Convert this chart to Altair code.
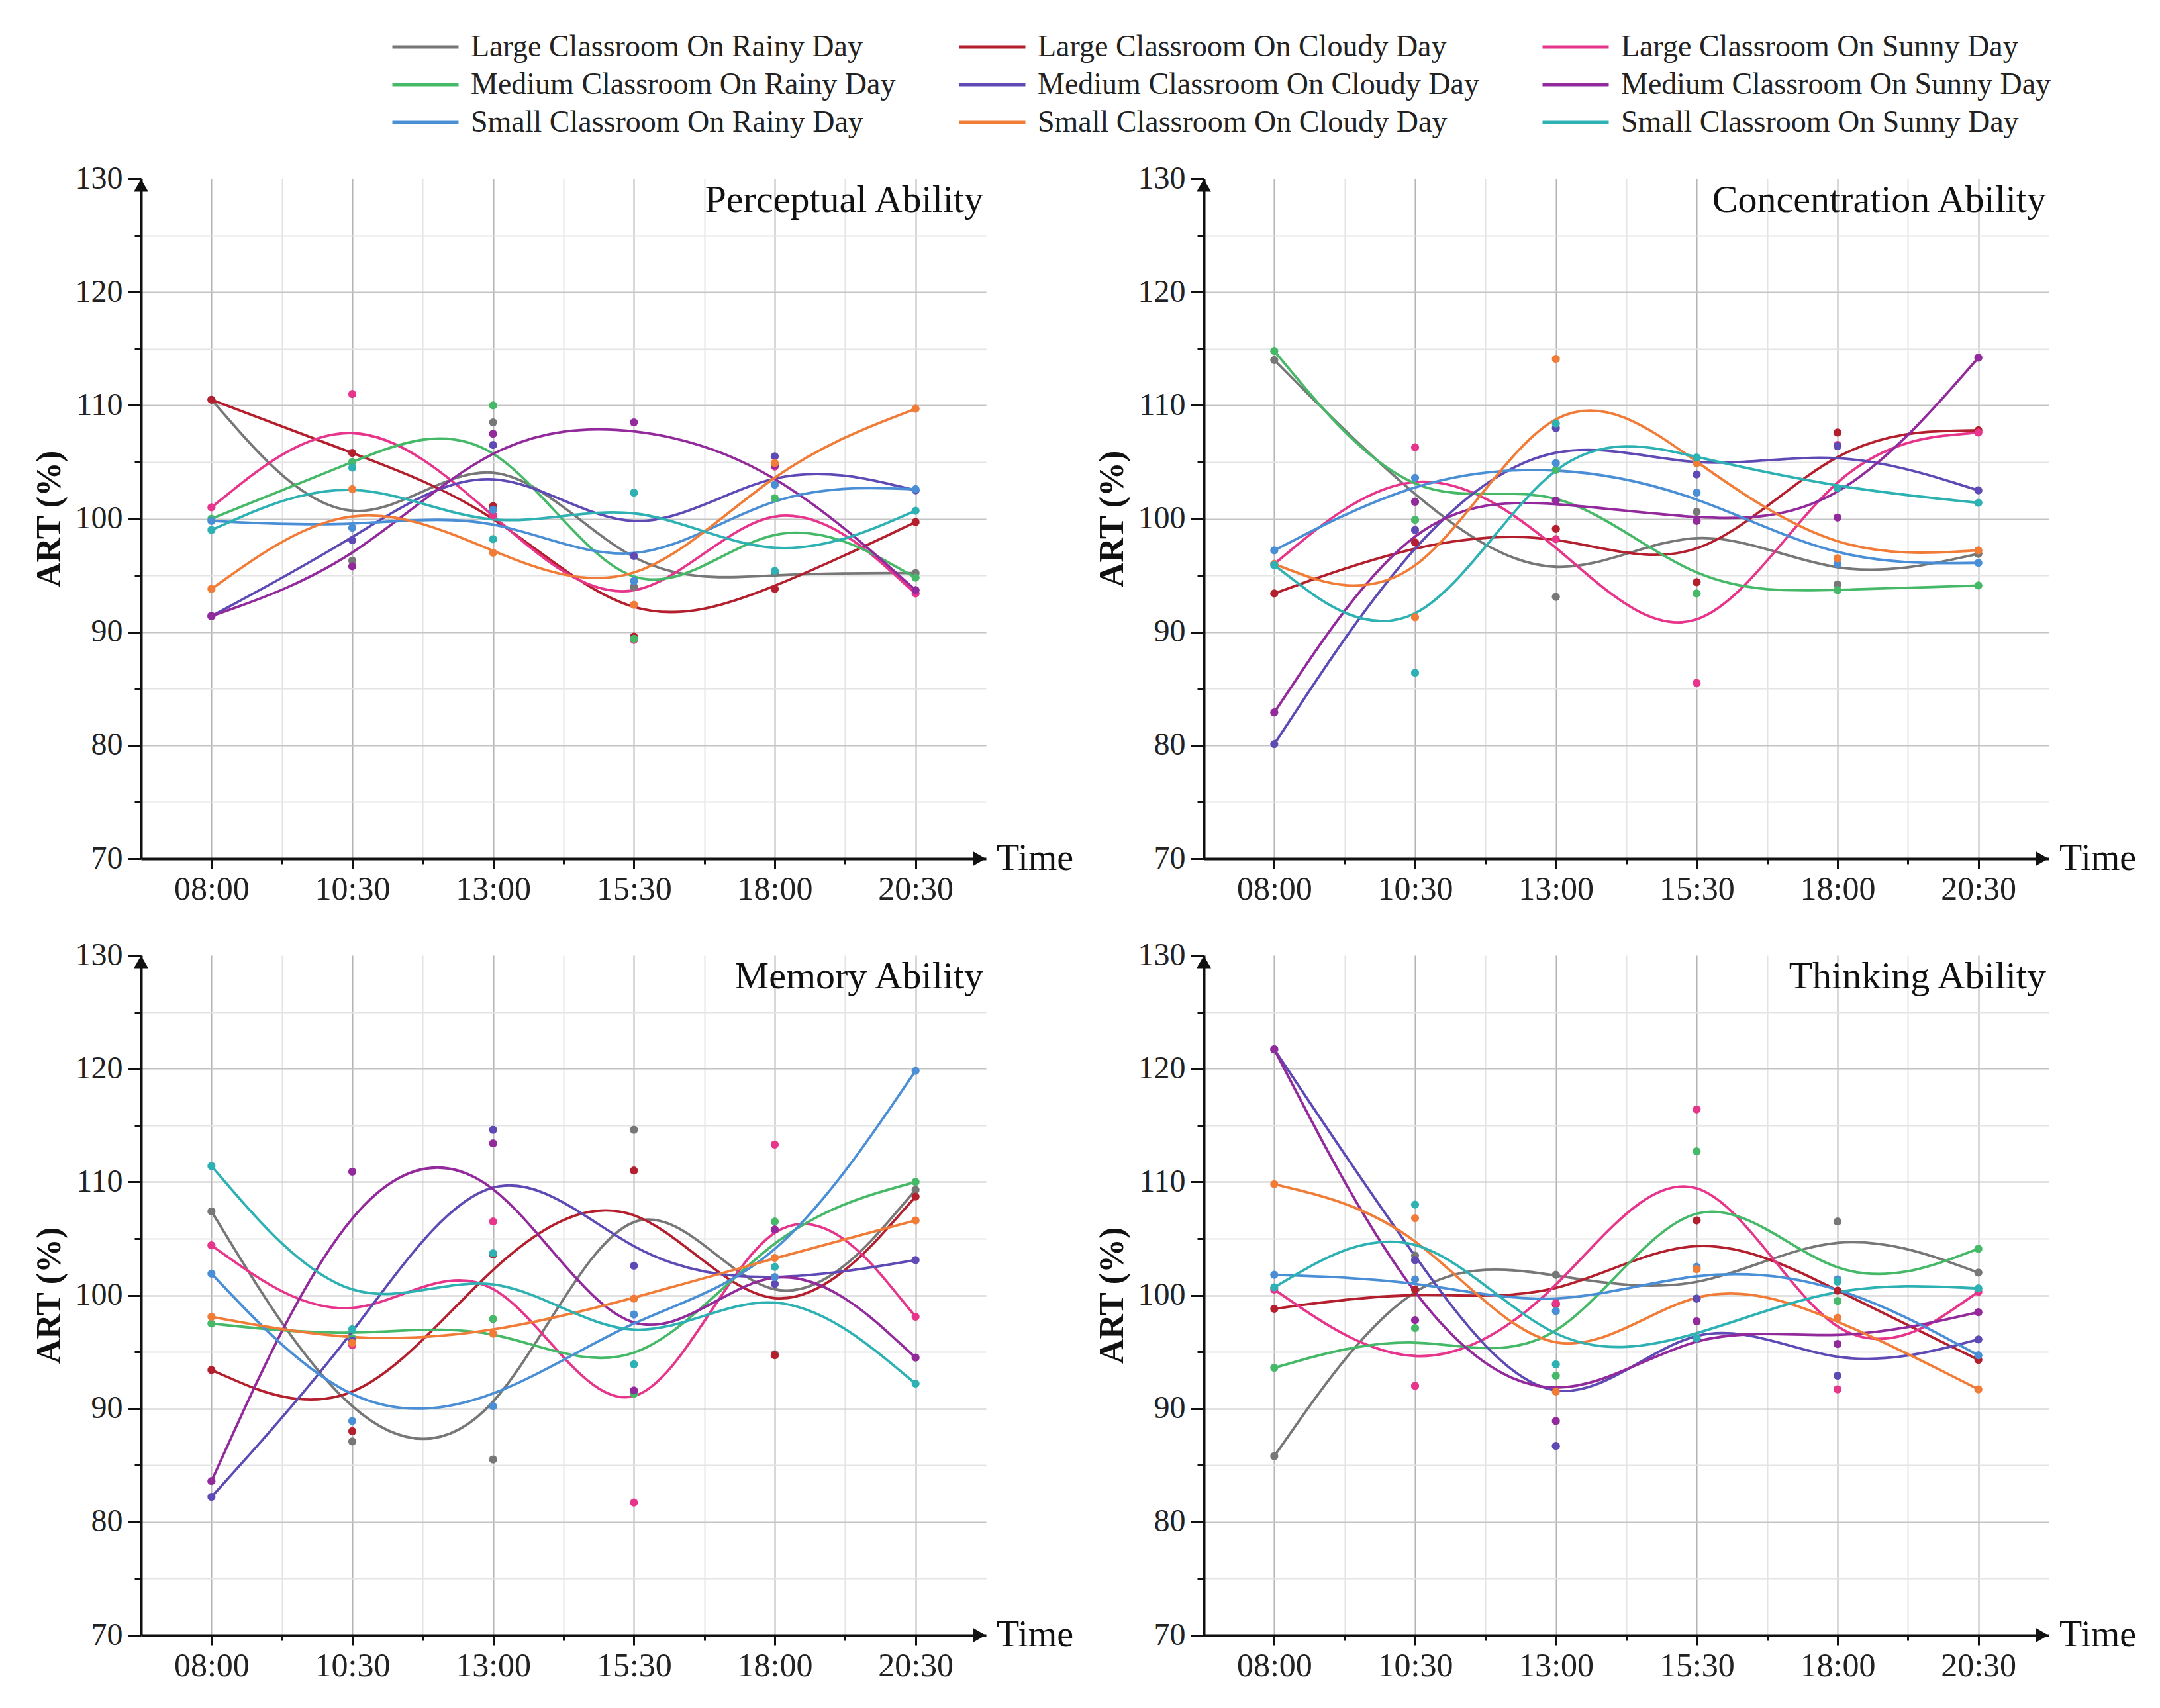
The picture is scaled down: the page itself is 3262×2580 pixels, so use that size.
import altair as alt
import pandas as pd

times = ["08:00", "10:30", "13:00", "15:30", "18:00", "20:30"]
series_names = [
    "Large Classroom On Rainy Day", "Large Classroom On Cloudy Day", "Large Classroom On Sunny Day",
    "Medium Classroom On Rainy Day", "Medium Classroom On Cloudy Day", "Medium Classroom On Sunny Day",
    "Small Classroom On Rainy Day", "Small Classroom On Cloudy Day", "Small Classroom On Sunny Day",
]
series_colors = ["#777777", "#b41f2e", "#e6358b", "#46b968", "#5f4ab5",
                 "#932a9c", "#4a8fd6", "#f07c38", "#2eb1b3"]
panel_titles = ["Perceptual Ability", "Concentration Ability", "Memory Ability", "Thinking Ability"]
x_title = "Time"
y_title = "ART (%)"

# values per series (order as series_names), one value per time
perceptual = [
    [110.5, 96.3, 108.5, 94.0, 95.2, 95.2],
    [110.5, 105.8, 101.1, 89.6, 93.8, 99.7],
    [101.0, 111.0, 100.3, 89.3, 104.6, 93.4],
    [100.0, 105.0, 110.0, 89.4, 101.8, 94.8],
    [91.4, 98.1, 106.5, 96.7, 105.5, 102.5],
    [91.4, 95.8, 107.5, 108.5, 104.7, 93.7],
    [99.8, 99.2, 100.8, 94.5, 103.0, 102.6],
    [93.8, 102.6, 97.0, 92.4, 104.9, 109.7],
    [99.0, 104.5, 98.2, 102.3, 95.4, 100.7],
]
concentration = [
    [114.0, 101.5, 93.1, 100.6, 94.2, 96.9],
    [93.4, 97.9, 99.1, 94.4, 107.6, 107.8],
    [96.0, 106.3, 98.2, 85.5, 106.5, 107.6],
    [114.8, 99.9, 104.3, 93.4, 93.7, 94.1],
    [80.1, 99.0, 108.0, 103.9, 106.4, 102.5],
    [82.9, 101.5, 101.6, 99.8, 100.1, 114.2],
    [97.2, 103.6, 104.9, 102.3, 96.0, 96.1],
    [96.0, 91.3, 114.1, 104.9, 96.5, 97.2],
    [95.9, 86.4, 108.4, 105.4, 102.7, 101.4],
]
memory = [
    [107.4, 87.1, 85.5, 114.6, 94.8, 109.3],
    [93.4, 88.0, 103.6, 111.0, 94.7, 108.7],
    [104.4, 95.6, 106.5, 81.7, 113.3, 98.1],
    [97.5, 96.2, 97.9, 91.3, 106.5, 110.0],
    [82.2, 96.0, 114.6, 102.6, 101.0, 103.1],
    [83.6, 110.9, 113.4, 91.6, 105.8, 94.5],
    [101.9, 88.9, 90.2, 98.3, 101.6, 119.8],
    [98.1, 95.8, 96.6, 99.7, 103.3, 106.6],
    [111.4, 97.0, 103.7, 93.9, 102.5, 92.2],
]
thinking = [
    [85.8, 103.5, 101.8, 99.7, 106.5, 102.0],
    [98.8, 100.5, 99.2, 106.6, 100.4, 94.3],
    [100.5, 92.0, 99.3, 116.4, 91.7, 100.3],
    [93.6, 97.1, 92.9, 112.7, 99.5, 104.1],
    [121.7, 103.1, 86.7, 99.7, 92.9, 96.1],
    [121.7, 97.8, 88.9, 97.7, 95.7, 98.5],
    [101.8, 101.4, 98.6, 102.5, 101.4, 94.7],
    [109.8, 106.8, 91.5, 102.3, 98.0, 91.7],
    [100.7, 108.0, 93.9, 96.2, 101.2, 100.6],
]
panel_values = [perceptual, concentration, memory, thinking]

y_min, y_max = 70, 130
major_y = list(range(y_min, y_max + 1, 10))
minor_y = list(range(y_min + 5, y_max, 10))
major_x = list(range(len(times)))
minor_x = [i + 0.5 for i in range(len(times) - 1)]
label_expr = "[" + ",".join("'%s'" % t for t in times) + "][datum.value]"

W, H = 1276, 1027
FONT = "Liberation Serif"
INK = "#111111"

color_scale = alt.Scale(domain=series_names, range=series_colors)
legend = alt.Legend(
    orient="none", legendX=377, legendY=-224, direction="horizontal", columns=3,
    symbolType="stroke", symbolSize=10000, symbolStrokeWidth=5,
    labelFontSize=46, labelFont=FONT, labelColor="#222222", labelLimit=3000,
    columnPadding=93, rowPadding=7, labelOffset=16, clipHeight=50, title=None, padding=0,
)


def make_panel(title, values):
    rows = []
    for s, name in enumerate(series_names):
        for t, v in enumerate(values[s]):
            rows.append({"series": name, "t": t, "value": v})
    df = pd.DataFrame(rows)
    xs = alt.Scale(domain=[-0.5, len(times) - 0.5], nice=False, zero=False)
    ys = alt.Scale(domain=[y_min, y_max], nice=False, zero=False)
    base = alt.Chart(df)

    minor = base.mark_point(opacity=0).encode(
        x=alt.X("t:Q", scale=xs, axis=alt.Axis(
            values=minor_x, grid=True, gridColor="#e4e4e4", gridWidth=2, labels=False,
            domain=False, ticks=True, tickSize=8, tickWidth=3, tickColor=INK,
            orient="bottom", title=None)),
        y=alt.Y("value:Q", scale=ys, axis=alt.Axis(
            values=minor_y, grid=True, gridColor="#e4e4e4", gridWidth=2, labels=False,
            domain=False, ticks=True, tickSize=10, tickWidth=3, tickColor=INK,
            orient="left", title=None)),
    )

    lines = base.mark_line(interpolate="basis", strokeWidth=3.8).encode(
        x=alt.X("t:Q", scale=xs, axis=alt.Axis(
            values=major_x, labelExpr=label_expr, grid=True, gridColor="#b4b4b4", gridWidth=2,
            domainColor=INK, domainWidth=4, tickColor=INK, tickWidth=3, tickSize=15,
            labelFontSize=50, labelColor="#222222", labelPadding=6, orient="bottom", title=None)),
        y=alt.Y("value:Q", scale=ys, axis=alt.Axis(
            values=major_y, grid=True, gridColor="#c4c4c4", gridWidth=2,
            gridOpacity={"condition": {"test": "datum.value >= %d" % y_max, "value": 0}, "value": 1},
            domainColor=INK, domainWidth=4, tickColor=INK, tickWidth=3, tickSize=20,
            labelFontSize=48, labelColor="#222222", labelPadding=8, orient="left",
            title=y_title, titleFontSize=52, titleFontWeight="bold", titleColor=INK,
            titlePadding=12)),
        color=alt.Color("series:N", scale=color_scale, legend=legend),
    )

    points = base.mark_circle(size=150, opacity=1).encode(
        x=alt.X("t:Q", scale=xs, axis=None),
        y=alt.Y("value:Q", scale=ys, axis=None),
        color=alt.Color("series:N", scale=color_scale, legend=None),
    )

    deco = alt.Chart(pd.DataFrame({"title": [title]}))
    arrow_up = deco.mark_point(shape="triangle-up", filled=True, size=480, color=INK, opacity=1).encode(
        x=alt.value(0), y=alt.value(10))
    arrow_right = deco.mark_point(shape="triangle-right", filled=True, size=480, color=INK, opacity=1).encode(
        x=alt.value(W - 10), y=alt.value(H))
    time_txt = deco.mark_text(text=x_title, align="left", baseline="middle", fontSize=56,
                              font=FONT, color=INK).encode(x=alt.value(W + 16), y=alt.value(H))
    title_txt = deco.mark_text(align="right", baseline="middle", fontSize=58, font=FONT,
                               color=INK).encode(text="title:N", x=alt.value(W - 4), y=alt.value(33))

    return alt.layer(minor, lines, points, arrow_up, arrow_right, time_txt, title_txt).resolve_axis(
        x="independent", y="independent").properties(width=W, height=H)


panels = [make_panel(t, v) for t, v in zip(panel_titles, panel_values)]

chart = alt.concat(
    *panels, columns=2, spacing={"row": 146, "column": 329}, bounds="flush"
).properties(
    padding={"left": 40, "top": 38, "right": 20, "bottom": 20}
).configure(font=FONT).configure_view(stroke=None)

chart.save("out.html", embed_options={"renderer": "svg", "actions": False})
